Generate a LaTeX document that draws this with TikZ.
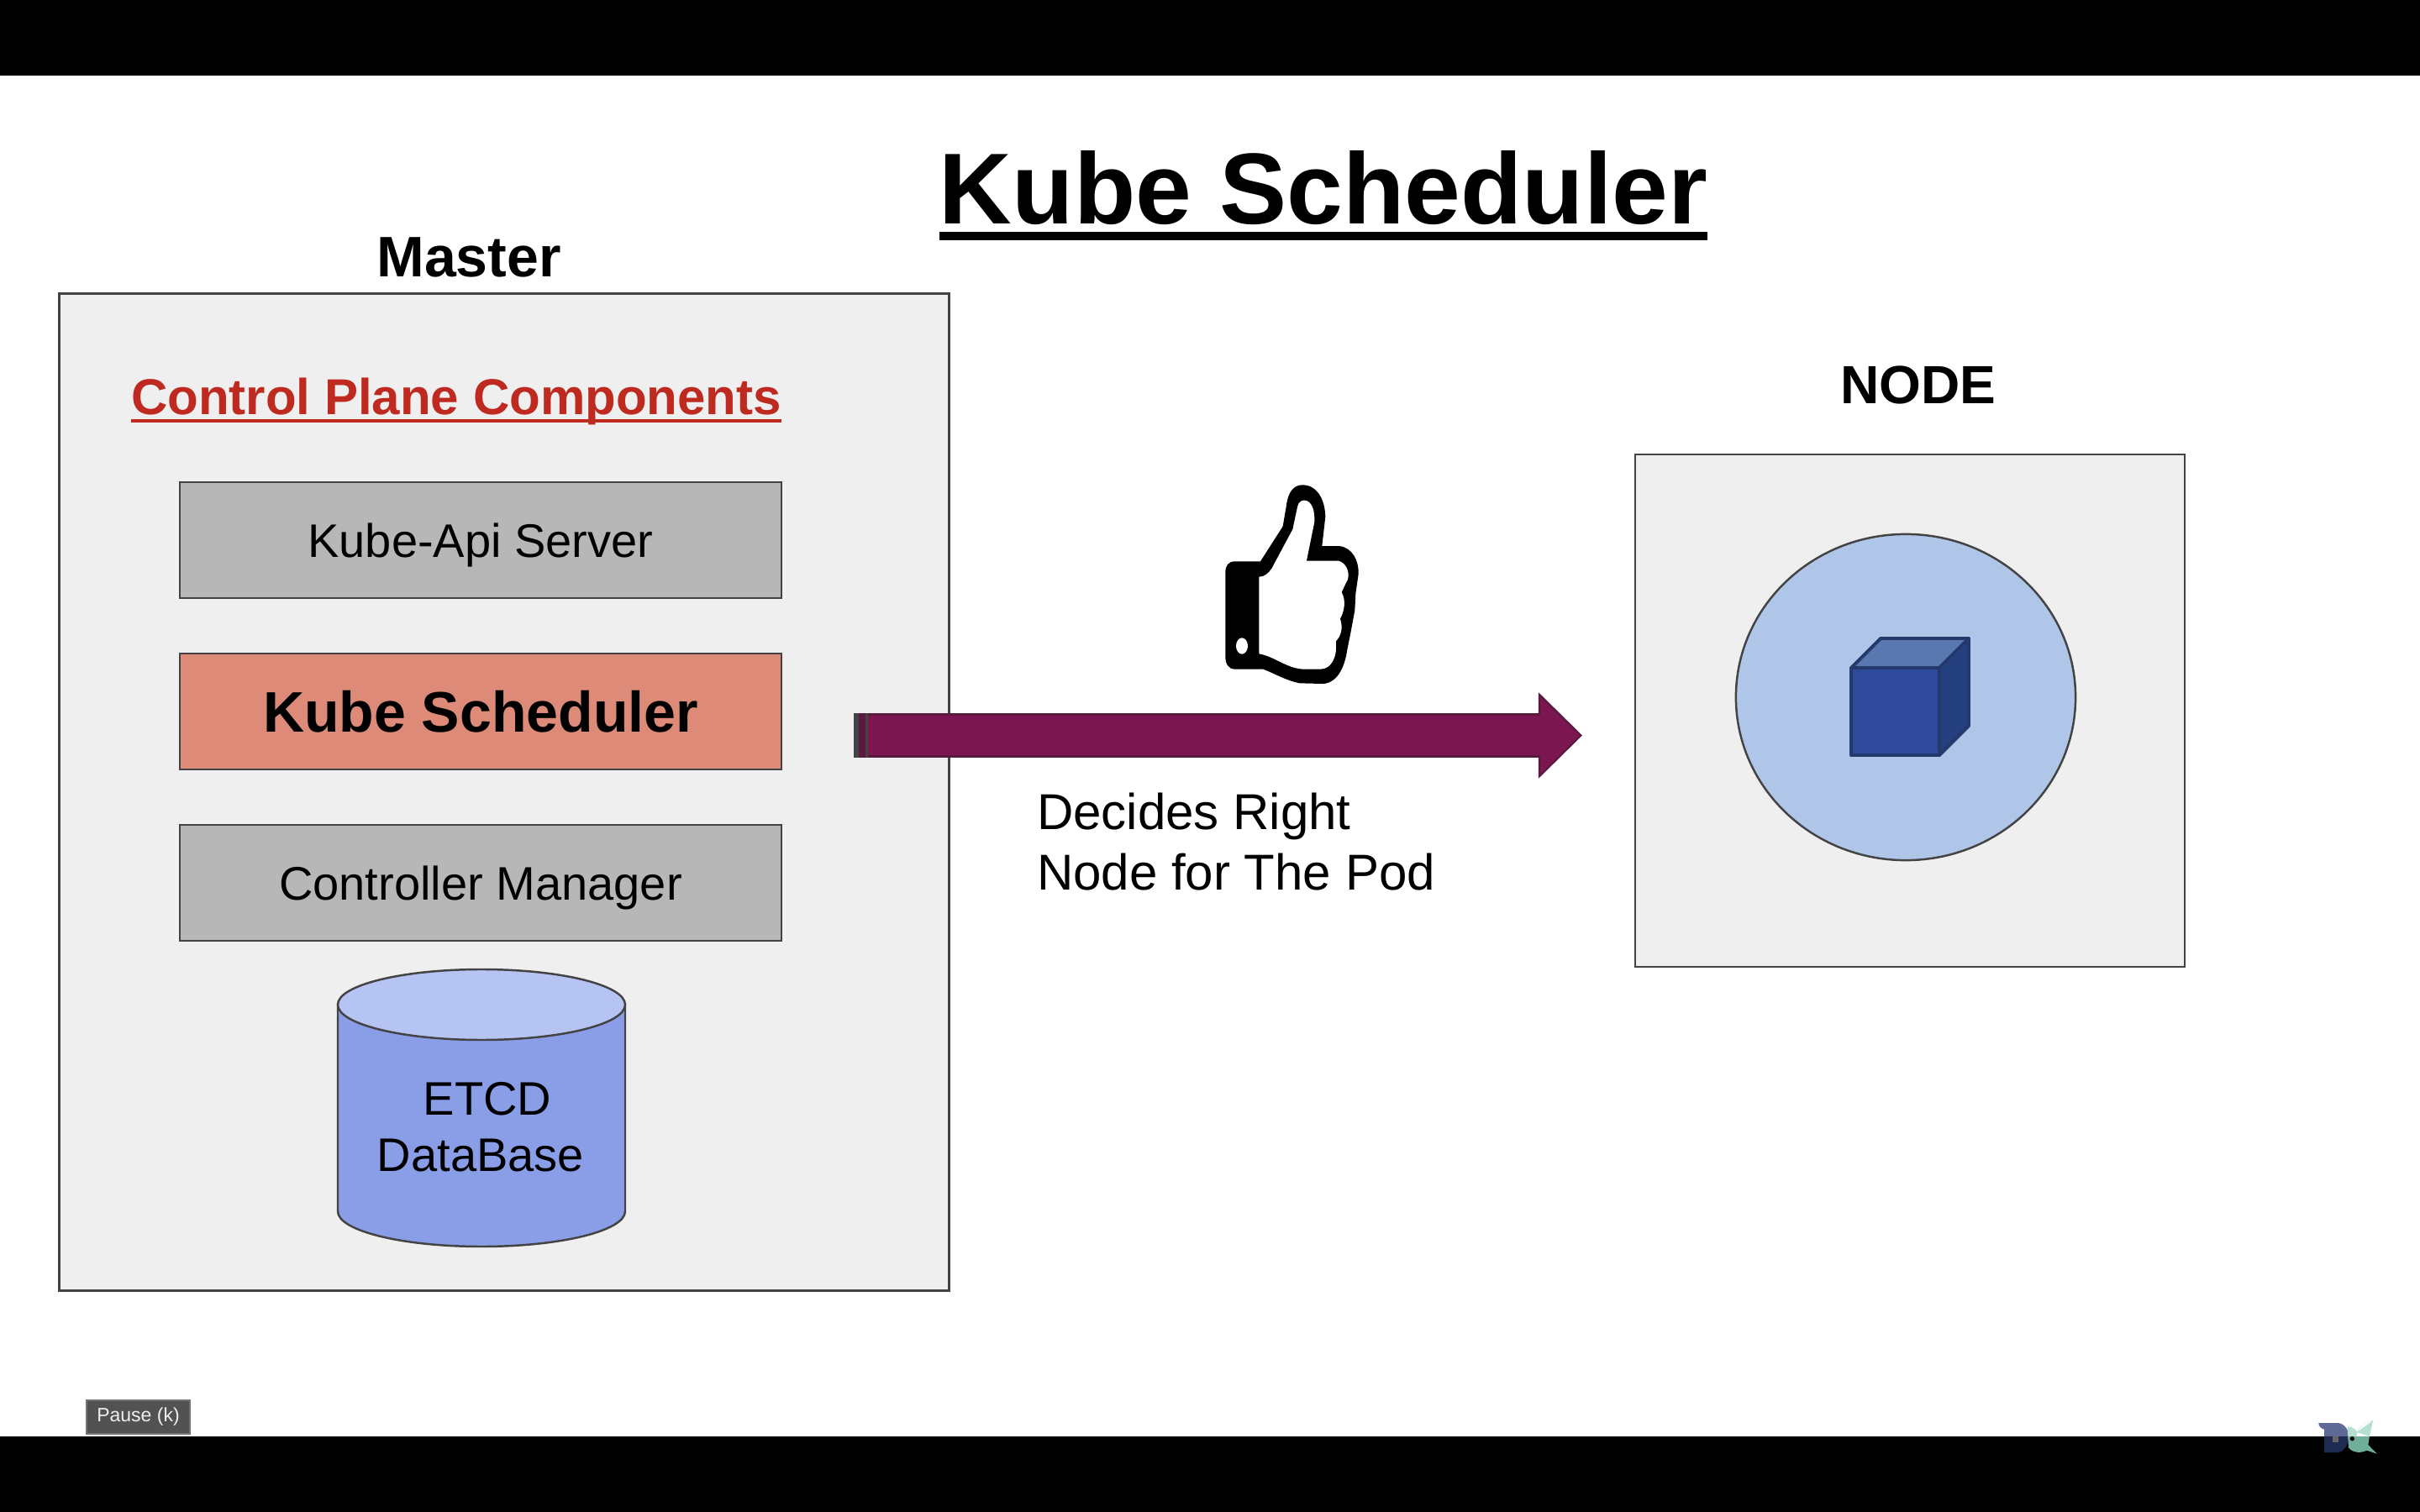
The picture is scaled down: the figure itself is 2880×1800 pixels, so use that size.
\documentclass[tikz,border=0pt]{standalone}
\usepackage{fontspec}
\setmainfont{Liberation Sans}
\usetikzlibrary{arrows.meta,shapes.geometric}
\newcommand\pxf[1]{\fontsize{\fpeval{#1*0.28453}pt}{\fpeval{#1*0.28453*1.2}pt}\selectfont}
\newcommand\ulbox[3]{\setbox0=\hbox{#1}\leavevmode\rlap{\vrule width\wd0 height -#2 depth #3}\box0}
\definecolor{panel}{HTML}{EFEFEF}
\definecolor{edge}{HTML}{434343}
\definecolor{graybox}{HTML}{B7B7B7}
\definecolor{salmon}{HTML}{DD8A78}
\definecolor{heading}{HTML}{BF2A20}
\definecolor{plum}{HTML}{7B1650}
\definecolor{plumdark}{HTML}{5A1A40}
\definecolor{disc}{HTML}{AFC6E8}
\definecolor{cylbody}{HTML}{8A9EE8}
\definecolor{cyltop}{HTML}{B5C4F3}
\definecolor{cubeedge}{HTML}{243A6B}
\definecolor{cubetop}{HTML}{5A78B0}
\definecolor{cubeside}{HTML}{25407F}
\definecolor{cubefront}{HTML}{2F4A9B}
\definecolor{logoa}{HTML}{5E6A95}
\definecolor{logob}{HTML}{1E2A50}
\definecolor{logoc}{HTML}{B5DFD0}
\definecolor{logod}{HTML}{6FAE98}
\tikzset{
  panelbox/.style={draw=edge,line width=0.7pt,fill=panel,minimum width=#1,inner sep=0pt,outer sep=0pt},
  comp/.style={draw=edge,line width=0.7pt,minimum width=7.16cm,minimum height=1.38cm,inner sep=0pt,outer sep=0pt,text depth=0pt},
  label/.style={inner sep=0pt,outer sep=0pt,anchor=base},
  cubeface/.style={draw=cubeedge,line width=1.1pt,line join=round},
}
\begin{document}
\begin{tikzpicture}[x=0.01cm,y=-0.01cm]
\useasboundingbox (0,0) rectangle (2880,1800);
\fill[white] (0,0) rectangle (2880,1800);
\fill[black] (0,0) rectangle (2880,90);
\fill[black] (0,1710) rectangle (2880,1800);

% title and headings
\node[label,font=\bfseries\pxf{120}] (title) at (1575,267) {\ulbox{Kube Scheduler}{0.09cm}{0.19cm}};
\node[label,font=\bfseries\pxf{68}] (master) at (558,330) {Master};
\node[label,font=\bfseries\pxf{64}] (nodelabel) at (2283,481) {NODE};

% master panel
\node[panelbox=10.58cm,minimum height=11.86cm] (masterbox) at (600,943) {};
\node[label,font=\bfseries\pxf{60},text=heading] (cpc) at (543,494) {\ulbox{Control Plane Components}{0.05cm}{0.09cm}};
\node[comp,fill=graybox,font=\pxf{56},text height=0.40cm] (api) at (572,643) {Kube-Api Server};
\node[comp,fill=salmon,font=\bfseries\pxf{68},text height=0.49cm] (sched) at (572,847) {Kube Scheduler};
\node[comp,fill=graybox,font=\pxf{56},text height=0.40cm] (ctrl) at (572,1051) {Controller Manager};

% database cylinder
\draw[draw=edge,line width=0.7pt,fill=cylbody] (402,1196) -- (402,1442) arc[start angle=180,end angle=0,x radius=171,y radius=42] -- (744,1196) -- cycle;
\draw[draw=edge,line width=0.7pt,fill=cyltop] (573,1196) ellipse[x radius=171,y radius=42];
\node[inner sep=0pt,outer sep=0pt,align=center,font=\pxf{56}] (etcd) at (572,1342) {\hspace*{0.16cm}ETCD\\DataBase};

% arrow
\coordinate (arrowstart) at (1016,875.5);
\coordinate (arrowend) at (1883,875.5);
\draw[line width=14.8pt,draw=plumdark,-{Triangle[length=0.52cm,width=1.02cm,line width=0.6pt,fill=plum,color=plumdark]}] (arrowstart) -- (arrowend);
\fill[edge] (1016,849) rectangle (1022,902);
\fill[plumdark] (1022,849) rectangle (1030,902);
\fill[edge] (1030,849) rectangle (1033,902);
\fill[plum] (1033,852) rectangle (1834,899);

% arrow caption
\node[inner sep=0pt,outer sep=0pt,anchor=west,align=left,font=\pxf{60}] (caption) at (1234,1002) {Decides Right\\Node for The Pod};

% thumbs up icon
\begin{scope}[shift={(1380,540)},x=0.01cm/3,y=-0.01cm/3]
\fill[black,even odd rule] (235,425) .. controls (235,400) and (245,385) .. (270,385) -- (360,385) -- (440,260) -- (452,190) .. controls (458,135) and (480,112) .. (510,112) .. controls (560,112) and (590,160) .. (592,225) -- (580,330) -- (640,330) .. controls (690,335) and (712,385) .. (710,430) -- (700,500) -- (697,560) -- (682,640) -- (670,700) .. controls (660,770) and (630,822) .. (580,822) -- (500,820) .. controls (450,810) and (410,785) .. (370,770) -- (270,770) .. controls (245,770) and (235,750) .. (235,725) -- cycle
  (355,440) .. controls (375,440) and (390,425) .. (400,410) -- (475,270) -- (492,190) .. controls (495,170) and (510,165) .. (520,167) .. controls (545,170) and (555,205) .. (553,245) -- (525,383) -- (640,383) .. controls (665,390) and (680,420) .. (672,450) -- (650,495) .. controls (665,520) and (662,560) .. (645,590) .. controls (655,620) and (650,650) .. (630,670) .. controls (635,725) and (615,770) .. (575,770) -- (510,770) .. controls (450,765) and (410,725) .. (355,715) -- cycle;
\fill[white] (294,687) ellipse[x radius=21,y radius=29];
\end{scope}

% worker node panel
\node[panelbox=6.54cm,minimum height=6.10cm] (nodebox) at (2273,846) {};
\node[draw=edge,line width=0.7pt,fill=disc,ellipse,minimum width=4.04cm,minimum height=3.88cm,inner sep=0pt,outer sep=0pt] (podcircle) at (2268,830) {};
\draw[cubeface,fill=cubetop] (2203,795) -- (2238,760) -- (2343,760) -- (2308,795) -- cycle;
\draw[cubeface,fill=cubeside] (2308,795) -- (2343,760) -- (2343,864) -- (2308,899) -- cycle;
\draw[cubeface,fill=cubefront] (2203,795) rectangle (2308,899);

% player tooltip
\node[fill=black!68,draw=black!55,line width=0.4pt,text=black!7,font=\pxf{23},minimum width=1.23cm,minimum height=0.40cm,inner sep=0pt] (pause) at (164.5,1687) {Pause (k)};

% logo
\begin{scope}[shift={(2720,1660)},x=0.01cm/3,y=-0.01cm/3]
\begin{scope}
\clip (0,0) rectangle (480,150);
\fill[logoa] (118,102) -- (190,102) .. controls (225,110) and (228,150) .. (228,160) -- (138,150) -- (138,125) .. controls (125,122) and (118,112) .. (118,102) -- cycle;
\fill[logoc] (312,93) .. controls (270,100) and (255,125) .. (250,165) -- (225,160) .. controls (220,140) and (222,125) .. (222,115) .. controls (240,115) and (250,125) .. (255,135) .. controls (265,110) and (290,95) .. (312,93) -- cycle (255,135) -- (300,150) -- (312,93) -- cycle;
\end{scope}
\begin{scope}
\clip (0,150) rectangle (480,300);
\fill[logob] (138,148) -- (225,148) .. controls (225,185) and (205,207) .. (185,207) -- (138,207) -- cycle;
\fill[logod] (222,148) -- (300,148) -- (295,180) -- (326,212) -- (290,200) .. controls (270,210) and (240,210) .. (225,190) -- cycle;
\end{scope}
\fill[black!60] (168,150) rectangle (190,172);
\fill[black] (238,158) circle[radius=8];
\end{scope}
\end{tikzpicture}
\end{document}
